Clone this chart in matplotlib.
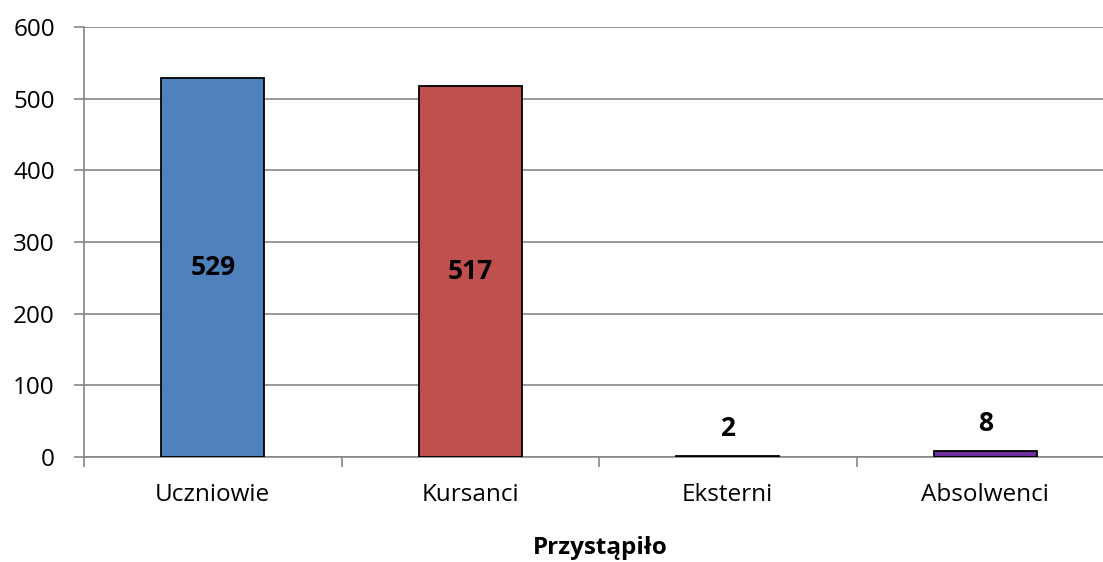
import matplotlib
matplotlib.use("Agg")
import matplotlib.pyplot as plt
from matplotlib.ticker import FixedLocator

categories = ["Uczniowie", "Kursanci", "Eksterni", "Absolwenci"]
values = [529, 517, 2, 8]
colors = ["#4F81BD", "#C0504D", "#9BBB59", "#7030A0"]
yticks = [0, 100, 200, 300, 400, 500, 600]
xlabel = "Przystąpiło"

plt.rcParams['font.family'] = ['Open Sans', 'DejaVu Sans']

W, H = 1103, 562
fig = plt.figure(figsize=(W / 100, H / 100), dpi=100)
left, right, top, bottom = 84, 1114, 27, 457
ax = fig.add_axes([left / W, 1 - bottom / H, (right - left) / W, (bottom - top) / H])

FS = 17.5
FSB = 19
x = list(range(len(categories)))
ax.bar(x, values, width=0.40, color=colors, edgecolor="black", linewidth=1.3, zorder=3)
ax.set_xlim(-0.5, len(categories) - 0.5)
ax.set_ylim(0, 600)
ax.set_yticks(yticks)
ax.set_yticklabels([str(t) for t in yticks], fontsize=FS)
ax.yaxis.grid(True, color="#868686", linewidth=1.2, zorder=0)
ax.set_xticks(x)
ax.set_xticklabels(categories, fontsize=FS)
ax.tick_params(axis='x', length=0, pad=19)
ax.xaxis.set_minor_locator(FixedLocator([i - 0.5 for i in range(len(categories) + 1)]))
ax.tick_params(axis='x', which='minor', length=7, color="#868686", width=1.2)
ax.tick_params(axis='y', length=7, color="#868686", width=1.2, pad=14)
for s in ["top", "right"]:
    ax.spines[s].set_visible(False)
for s in ["left", "bottom"]:
    ax.spines[s].set_color("#868686")
    ax.spines[s].set_linewidth(1.2)

for xi, v in zip(x, values):
    if v > 100:
        ax.text(xi, v / 2, str(v), ha="center", va="center", fontsize=FSB, fontweight="bold", zorder=4)
    else:
        ax.annotate(str(v), (xi, v), xytext=(0, 10), textcoords="offset points",
                    ha="center", va="bottom", fontsize=FSB, fontweight="bold", zorder=4)

fig.text(600 / W, 1 - 548 / H, xlabel, ha="center", va="center",
         fontsize=FS, fontweight="bold")

fig.savefig("out.png", dpi=100)
